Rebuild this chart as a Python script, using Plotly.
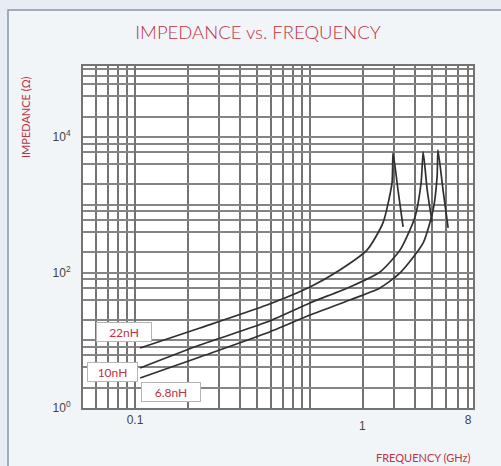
import plotly.graph_objects as go

# curves: frequency in GHz, impedance in ohms
freq_22nh = [0.107, 0.235, 0.567, 1.0, 1.48, 2.12, 2.61, 2.94, 2.98, 3.18, 3.40]
imp_22nh = [7.7, 15.2, 33.2, 61.2, 109, 216, 541, 2106, 5840, 1660, 472]

freq_10nh = [0.107, 0.235, 0.567, 1.0, 1.69, 2.51, 3.27, 3.98, 4.31, 4.43, 4.67, 4.98]
imp_10nh = [3.9, 8.5, 18.6, 35.6, 61.3, 102, 216, 663, 2106, 6040, 1660, 559]

freq_6n8h = [0.107, 0.235, 0.567, 1.0, 1.69, 2.51, 3.27, 4.43, 5.05, 5.32, 5.38, 5.75, 6.15]
imp_6n8h = [2.77, 5.67, 12.8, 23.6, 39.4, 59.3, 98.6, 274, 841, 2583, 6470, 1660, 456]

series_names = ["22nH", "10nH", "6.8nH"]

x_tickvals = [0.1, 8]
x_ticktext = ["0.1", "8"]
y_tickvals = [1, 100, 10000]
y_ticktext = ["10<sup>0</sup>", "10<sup>2</sup>", "10<sup>4</sup>"]

RED = "#bd3245"
GRID = "#737373"
LINE = "#303030"

# log grid: every 1..9 in x, 1,2,4,6,8 in y
x_grid = [m * 10 ** k for k in (-2, -1, 0) for m in range(1, 10)]
x_grid = [v for v in x_grid if 0.05 <= v <= 8.5]
y_grid = [m * 10 ** k for k in range(0, 5) for m in (1, 2, 4, 6, 8)] + [1e5]

fig = go.Figure()
for fx, fy, name in zip([freq_22nh, freq_10nh, freq_6n8h],
                        [imp_22nh, imp_10nh, imp_6n8h], series_names):
    fig.add_trace(go.Scatter(
        x=fx, y=fy, name=name, mode="lines",
        line=dict(color=LINE, width=1.7, shape="spline", smoothing=0.6),
    ))

fig.update_xaxes(
    type="log", range=[-1.297, 0.931],
    tickmode="array", tickvals=x_tickvals, ticktext=x_ticktext,
    showgrid=True, gridcolor=GRID, gridwidth=2,
    minor=dict(tickmode="array", tickvals=x_grid, showgrid=True,
               gridcolor=GRID, gridwidth=2, ticks=""),
    showline=True, linecolor=GRID, linewidth=2, mirror=True,
    ticks="", tickfont=dict(family="Liberation Sans", size=12, color="#444"),
    zeroline=False,
)
fig.update_yaxes(
    type="log", range=[0, 5.05],
    tickmode="array", tickvals=y_tickvals, ticktext=y_ticktext,
    showgrid=True, gridcolor="#858585", gridwidth=1.8,
    minor=dict(tickmode="array", tickvals=y_grid, showgrid=True,
               gridcolor="#858585", gridwidth=1.8, ticks=""),
    showline=True, linecolor=GRID, linewidth=2, mirror=True,
    ticks="", ticklabelstandoff=8,
    tickfont=dict(family="Liberation Sans", size=12, color="#444"),
    zeroline=False,
)

def px_x(p):
    return (p - 83) / 390

def px_y(p):
    return (408 - p) / 342

annots = [
    dict(text="1", x=px_x(362), y=px_y(426),
         font=dict(family="Liberation Sans", size=12, color="#444")),
    dict(text="IMPEDANCE (Ω)", x=px_x(25), y=px_y(117), textangle=-90,
         font=dict(family="Lato", size=11, color=RED)),
    dict(text="FREQUENCY (GHz)", x=px_x(473), y=px_y(457), xanchor="right",
         font=dict(family="Lato", size=11, color=RED)),
]
# curve labels in white boxes
for name, cx, cy, w in [("22nH", 124, 332, 52), ("10nH", 112, 372, 47), ("6.8nH", 171, 392, 56)]:
    annots.append(dict(
        text=name, x=px_x(cx), y=px_y(cy), width=w, height=16,
        bgcolor="white", bordercolor="#b5b5b5", borderwidth=1, borderpad=1,
        font=dict(family="Lato", size=12, color=RED),
    ))
for a in annots:
    a.setdefault("xanchor", "center")
    fig.add_annotation(xref="paper", yref="paper", showarrow=False, yanchor="middle", **a)

# panel frame behind the chart, then a white plot area on top of it
fig.add_shape(type="rect", xref="paper", yref="paper", layer="below",
              x0=px_x(8), x1=px_x(520), y0=px_y(480), y1=px_y(10),
              fillcolor="#f2f5f8", line=dict(color="#8797ad", width=1.5))
fig.add_shape(type="rect", xref="paper", yref="paper", layer="below",
              x0=0, x1=1, y0=0, y1=1, fillcolor="white", line=dict(width=0))

fig.update_layout(
    title=dict(text="IMPEDANCE vs. FREQUENCY", x=px_x(258), xref="paper", xanchor="center",
               y=1 - 33 / 466, yanchor="middle",
               font=dict(family="Lato", size=18.5, color=RED, weight=300)),
    width=501, height=466,
    margin=dict(l=83, r=28, t=66, b=58),
    showlegend=False,
    paper_bgcolor="#e7edf3",
    plot_bgcolor="white",
)

# drop the default body margin so the figure sits at the page corner
fig.write_html("out.html", config={"displayModeBar": False},
               post_script="document.body.style.margin='0';")
